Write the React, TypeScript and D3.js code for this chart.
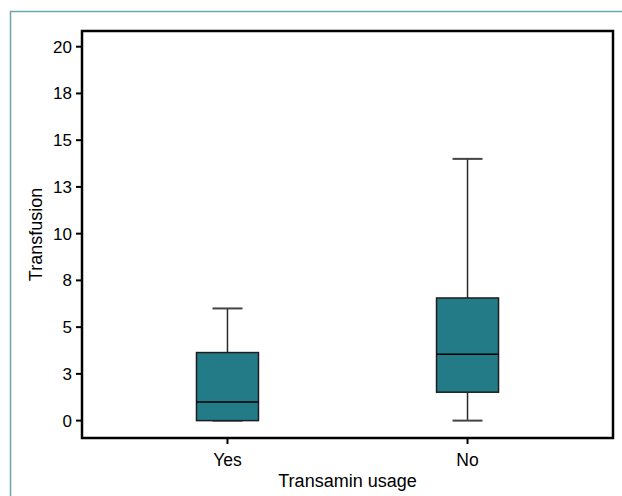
import React from "react";
import * as d3 from "d3";

const categories = ["Yes", "No"];
const whiskerLow = [0, 0];
const q1 = [0, 1.52];
const median = [1.0, 3.55];
const q3 = [3.64, 6.56];
const whiskerHigh = [6.0, 14.0];
const yTicks = [0, 2.5, 5, 7.5, 10, 12.5, 15, 17.5, 20];

const W = 622;
const H = 496;
const left = 82;
const right = 613;
const top = 31;
const bottom = 438;
const boxFill = "#237b87";

export default function App() {
  const x = d3.scalePoint<string>().domain(categories).range([left, right]).padding(0.606);
  const y = d3.scaleLinear().domain([-0.93, 20.84]).range([bottom, top]);
  const boxW = 62;
  const capW = 30;
  const font = "Liberation Sans, Arial, sans-serif";
  return (
    <svg width={W} height={H} style={{ position: "absolute", left: 0, top: 0 }}>
      <rect x={0} y={0} width={W} height={H} fill="#fff" />
      <line x1={10.5} y1={11} x2={10.5} y2={H} stroke="#6fa5ae" strokeWidth={1.5} />
      <line x1={10} y1={11.5} x2={W} y2={11.5} stroke="#6fa5ae" strokeWidth={1.5} />
      {categories.map((c, i) => {
        const cx = x(c)!;
        return (
          <g key={c}>
            <line x1={cx} x2={cx} y1={y(whiskerHigh[i])} y2={y(q3[i])} stroke="#2a2a2a" strokeWidth={1.5} />
            <line x1={cx} x2={cx} y1={y(whiskerLow[i])} y2={y(q1[i])} stroke="#2a2a2a" strokeWidth={1.5} />
            <line x1={cx - capW / 2} x2={cx + capW / 2} y1={y(whiskerHigh[i])} y2={y(whiskerHigh[i])} stroke="#444" strokeWidth={2} />
            <line x1={cx - capW / 2} x2={cx + capW / 2} y1={y(whiskerLow[i])} y2={y(whiskerLow[i])} stroke="#444" strokeWidth={2} />
            <rect x={cx - boxW / 2} y={y(q3[i])} width={boxW} height={y(q1[i]) - y(q3[i])} fill={boxFill} stroke="#1e1e1e" strokeWidth={1.5} />
            <line x1={cx - boxW / 2} x2={cx + boxW / 2} y1={y(median[i])} y2={y(median[i])} stroke="#000" strokeWidth={1.5} />
            <line x1={cx} x2={cx} y1={bottom} y2={bottom + 6} stroke="#000" strokeWidth={2} />
            <text x={cx} y={bottom + 28} textAnchor="middle" fontFamily={font} fontSize={17.5} fill="#000">{c}</text>
          </g>
        );
      })}
      {yTicks.map((t) => (
        <g key={t}>
          <line x1={left - 6} x2={left} y1={y(t)} y2={y(t)} stroke="#000" strokeWidth={2} />
          <text x={left - 10} y={y(t)} dy="0.35em" textAnchor="end" fontFamily={font} fontSize={17} fill="#000">
            {Math.round(t)}
          </text>
        </g>
      ))}
      <rect x={left} y={top} width={right - left} height={bottom - top} fill="none" stroke="#000" strokeWidth={2.5} />
      <text x={(left + right) / 2} y={487} textAnchor="middle" fontFamily={font} fontSize={18} fill="#000">Transamin usage</text>
      <text transform={`translate(42,${(top + bottom) / 2}) rotate(-90)`} textAnchor="middle" fontFamily={font} fontSize={18} fill="#000">Transfusion</text>
    </svg>
  );
}
